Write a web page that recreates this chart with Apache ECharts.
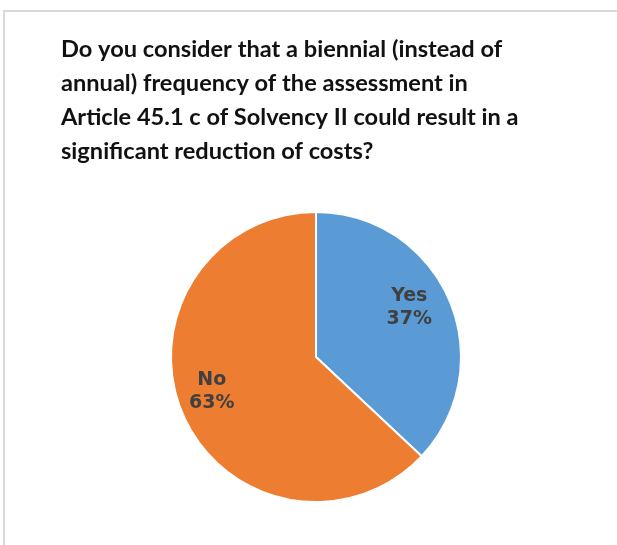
<!DOCTYPE html>
<html>
<head>
<meta charset="utf-8">
<script src="https://cdn.jsdelivr.net/npm/echarts@6/dist/echarts.min.js"></script>
<style>
  html, body { margin: 0; padding: 0; background: #ffffff; }
  #chart { width: 617px; height: 545px; }
</style>
</head>
<body>
<div id="chart"></div>
<script>
// Survey answers
const categories = ['Yes', 'No'];
const shares = [37, 63];
const colors = ['#5B9BD5', '#ED7D31'];
// label nudges from the default inside position
const labelOffsets = [[24, -19], [-35, 5]];

const questionLines = [
  'Do you consider that a biennial (instead of',
  'annual) frequency of the assessment in',
  'Article 45.1 c of Solvency II could result in a',
  'significant reduction of costs?'
];

const chart = echarts.init(document.getElementById('chart'), null, { renderer: 'canvas' });

chart.setOption({
  backgroundColor: '#ffffff',
  animation: false,
  title: {
    text: questionLines.join('\n'),
    left: 56,
    top: 27,
    textStyle: {
      fontFamily: 'Lato',
      fontWeight: 'bold',
      fontSize: 23.6,
      lineHeight: 34,
      color: '#111111'
    }
  },
  graphic: [{
    type: 'rect',
    shape: { x: 4, y: 11, width: 700, height: 600 },
    style: { fill: 'none', stroke: '#d9d9d9', lineWidth: 2 },
    silent: true
  }],
  series: [{
    type: 'pie',
    center: [316, 357],
    radius: [0, 145],
    startAngle: 90,
    clockwise: true,
    itemStyle: { borderColor: '#ffffff', borderWidth: 2 },
    label: {
      show: true,
      position: 'inside',
      formatter: '{b}\n{d}%',
      fontFamily: 'DejaVu Sans',
      fontWeight: 'bold',
      fontSize: 19,
      lineHeight: 23,
      color: '#404040'
    },
    labelLine: { show: false },
    emphasis: { disabled: true },
    data: categories.map((name, i) => ({
      name: name,
      value: shares[i],
      itemStyle: { color: colors[i] },
      label: { offset: labelOffsets[i] }
    }))
  }]
});
</script>
</body>
</html>
